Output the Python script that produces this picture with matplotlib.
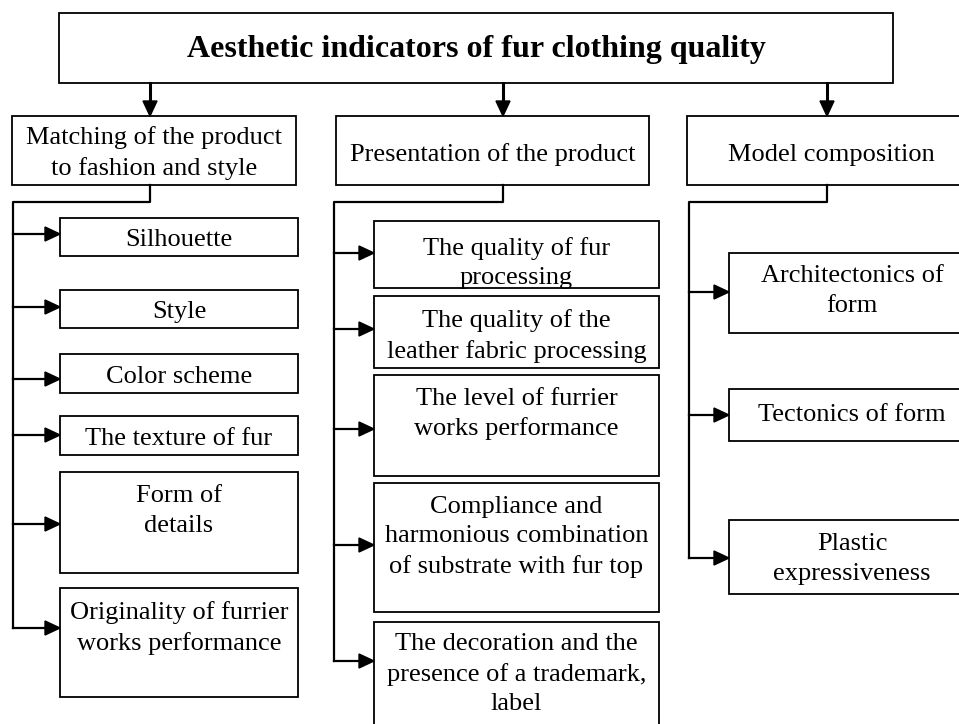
"""Tree diagram: aesthetic indicators of fur clothing quality."""
import matplotlib as mpl
mpl.use("Agg")
import matplotlib.pyplot as plt
from matplotlib.patches import Polygon, Rectangle

plt.rcParams.update({
    "font.family": "Liberation Serif",
    "font.size": 19,
})

# Texts
title = "Aesthetic indicators of fur clothing quality"
groups = [
    "Matching of the product\nto fashion and style",
    "Presentation of the product",
    "Model composition",
]
items = [
    ["Silhouette", "Style", "Color scheme", "The texture of fur",
     "Form of\ndetails", "Originality of furrier\nworks performance"],
    ["The quality of fur\nprocessing", "The quality of the\nleather fabric processing",
     "The level of furrier\nworks performance",
     "Compliance and\nharmonious combination\nof substrate with fur top",
     "The decoration and the\npresence of a trademark,\nlabel"],
    ["Architectonics of\nform", "Tectonics of form", "Plastic\nexpressiveness"],
]

# Layout in pixels (y grows downward)
title_box = (59, 13, 893, 83)
title_y = 50
group_boxes = [(12, 116, 296, 185), (336, 116, 649, 185), (687, 116, 975, 185)]
group_text_y = [153, 155, 155]
drop_x = [150, 503, 827]
spine_x = [13, 334, 689]
branch_y = 202
item_x = [(60, 298), (374, 659), (729, 975)]
item_y = [
    [(218, 256), (290, 328), (354, 393), (416, 455), (472, 573), (588, 697)],
    [(221, 288), (296, 368), (375, 476), (483, 612), (622, 740)],
    [(253, 333), (389, 441), (520, 594)],
]
item_arrow_y = [
    [234, 307, 379, 435, 524, 628],
    [253, 329, 429, 545, 661],
    [292, 415, 558],
]
item_text_y = [
    [240, 312, 377, 439, 511, 628],
    [263, 336, 414, 537, 674],
    [291, 415, 559],
]

fig = plt.figure(figsize=(9.59, 7.24), dpi=100)
fig.patch.set_facecolor("white")
ax = fig.add_axes([0, 0, 1, 1])
ax.set_xlim(0, 959)
ax.set_ylim(724, 0)
ax.axis("off")


def box(x0, y0, x1, y1):
    r = Rectangle((x0, y0), x1 - x0, y1 - y0, facecolor="white",
                  edgecolor="black", lw=1.3, zorder=2)
    ax.add_patch(r)
    return r


def arrow_right(x0, x1, y):
    ax.plot([x0, x1 - 14], [y, y], color="black", lw=1.6, zorder=3)
    ax.add_patch(Polygon([(x1, y), (x1 - 15, y - 7), (x1 - 15, y + 7)],
                         closed=True, color="black", zorder=3))


def arrow_down(x, y0, y1):
    ax.plot([x, x], [y0, y1 - 12], color="black", lw=2.2, zorder=3)
    ax.add_patch(Polygon([(x, y1), (x - 7, y1 - 15), (x + 7, y1 - 15)],
                         closed=True, color="black", zorder=3))


# Title
box(*title_box)
ax.text((title_box[0] + title_box[2]) / 2, title_y, title, ha="center", va="center",
        fontsize=23, weight="bold", zorder=4)

for g in range(3):
    x0, y0, x1, y1 = group_boxes[g]
    arrow_down(drop_x[g], title_box[3], y0)
    box(x0, y0, x1, y1)
    ax.text((x0 + x1) / 2, group_text_y[g], groups[g], ha="center", va="center",
            linespacing=1.42, zorder=4)

    # connector: down from group box, left to spine, then down
    last = item_arrow_y[g][-1]
    ax.plot([drop_x[g], drop_x[g], spine_x[g], spine_x[g]],
            [y1, branch_y, branch_y, last], color="black", lw=1.6, zorder=3)

    bx0, bx1 = item_x[g]
    for label, (iy0, iy1), ay, ty in zip(items[g], item_y[g], item_arrow_y[g], item_text_y[g]):
        r = box(bx0, iy0, bx1, iy1)
        arrow_right(spine_x[g], bx0, ay)
        t = ax.text((bx0 + bx1) / 2, ty, label, ha="center", va="center",
                    linespacing=1.42, zorder=4)
        t.set_clip_path(r)

fig.savefig("out.png", dpi=100, facecolor="white")
